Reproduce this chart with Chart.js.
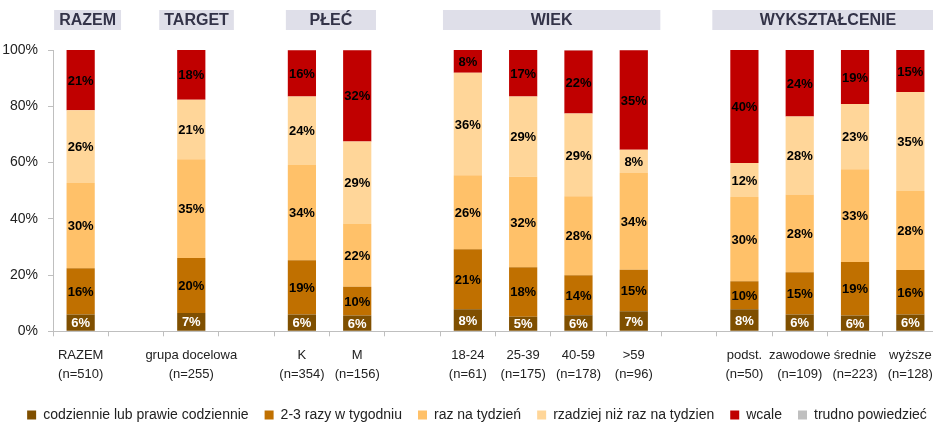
<!DOCTYPE html>
<html>
<head>
<meta charset="utf-8">
<script src="https://cdn.jsdelivr.net/npm/chart.js@4/dist/chart.umd.min.js"></script>
<style>
  html, body { margin: 0; padding: 0; background: #fff; overflow: hidden; }
  #wrap { width: 945px; height: 434px; }
</style>
</head>
<body>
<div id="wrap"><canvas id="chart" width="945" height="434"></canvas></div>
<script>
  // categories (empty strings are the gaps between groups)
  let categories = [
    ['RAZEM', '(n=510)'], '', ['grupa docelowa', '(n=255)'], '',
    ['K', '(n=354)'], ['M', '(n=156)'], '',
    ['18-24', '(n=61)'], ['25-39', '(n=175)'], ['40-59', '(n=178)'], ['>59', '(n=96)'], '',
    ['podst.', '(n=50)'], ['zawodowe', '(n=109)'], ['średnie', '(n=223)'], ['wyższe', '(n=128)']
  ];

  let codziennie = [6, null, 6.5, null, 6, 5.6, null, 7.8, 5.2, 5.7, 7.1, null, 7.8, 6, 5.6, 6];
  let dwaTrzy    = [16.4, null, 19.6, null, 19.3, 10.2, null, 21.4, 17.6, 14.2, 14.8, null, 10, 15, 19, 15.8];
  let razTydz    = [30.3, null, 35.1, null, 33.8, 22.3, null, 26.3, 32.1, 28.1, 34.4, null, 29.9, 27.6, 33, 28.1];
  let rzadziej   = [25.9, null, 21.1, null, 24.4, 29.4, null, 36.4, 28.6, 29.4, 8.2, null, 12.1, 27.8, 23.2, 35.2];
  let wcale      = [21.4, null, 17.7, null, 16.4, 32.4, null, 8.1, 16.5, 22.4, 35.4, null, 40.2, 23.6, 19.2, 14.9];
  let trudno     = [0, null, 0, null, 0.1, 0.1, null, 0, 0, 0.2, 0.1, null, 0, 0, 0, 0];

  let seriesNames = ['codziennie lub prawie codziennie', '2-3 razy w tygodniu', 'raz na tydzień',
                     'rzadziej niż raz na tydzien', 'wcale', 'trudno powiedzieć'];
  let seriesColors = ['#7F4F00', '#C07000', '#FFC169', '#FFD699', '#C00000', '#BFBFBF'];
  let labelColors = ['#ffffff', '#000000', '#000000', '#000000', '#000000', '#000000'];

  let yTicks = [0, 20, 40, 60, 80, 100];

  // group headers: text and span in category units
  let headerTexts = ['RAZEM', 'TARGET', 'PŁEĆ', 'WIEK', 'WYKSZTAŁCENIE'];
  let headerSpans = [[-0.48, 0.73], [1.42, 2.77], [3.71, 5.34], [6.55, 10.48], [11.42, 15.6]];

  let allSeries = [codziennie, dwaTrzy, razTydz, rzadziej, wcale, trudno];

  let headerPlugin = {
    id: 'headers',
    afterLayout(chart) {
      // legend sits a bit right of centre in the original
      chart.legend.left += 8;
      chart.legend.right += 8;
    },
    afterDraw(chart) {
      let ctx = chart.ctx;
      let x = chart.scales.x;
      ctx.save();
      headerTexts.forEach((t, i) => {
        let l = x.getPixelForValue(headerSpans[i][0]);
        let r = x.getPixelForValue(headerSpans[i][1]);
        ctx.fillStyle = '#DFDFE9';
        ctx.fillRect(l, 10, r - l, 20);
        ctx.fillStyle = '#333348';
        ctx.font = 'bold 16px "Liberation Sans", Arial, sans-serif';
        ctx.textAlign = 'center';
        ctx.textBaseline = 'middle';
        ctx.fillText(t, (l + r) / 2, 21);
      });
      ctx.restore();
    }
  };

  let valuePlugin = {
    id: 'values',
    afterDatasetsDraw(chart) {
      let ctx = chart.ctx;
      ctx.save();
      ctx.font = 'bold 13px "Liberation Sans", Arial, sans-serif';
      ctx.textAlign = 'center';
      ctx.textBaseline = 'middle';
      chart.data.datasets.forEach((ds, di) => {
        if (di > 4) return;
        chart.getDatasetMeta(di).data.forEach((bar, i) => {
          let v = ds.data[i];
          if (v == null || v < 1) return;
          ctx.fillStyle = labelColors[di];
          ctx.fillText(Math.round(v) + '%', bar.x, (bar.y + bar.base) / 2 + 1);
        });
      });
      ctx.restore();
    }
  };

  let ctx = document.getElementById('chart').getContext('2d');
  let chart = new Chart(ctx, {
    type: 'bar',
    data: {
      labels: categories,
      datasets: allSeries.map((s, i) => ({
        label: seriesNames[i],
        data: s,
        backgroundColor: seriesColors[i],
        borderWidth: 0,
        barPercentage: 0.51,
        categoryPercentage: 1
      }))
    },
    options: {
      responsive: false,
      animation: false,
      layout: { padding: { top: 50, right: 7, left: 0, bottom: 2 } },
      scales: {
        x: {
          stacked: true,
          afterFit(scale) { scale.height -= 2; },
          grid: { drawOnChartArea: false, drawTicks: true, tickLength: 5, color: '#BFBFBF', offset: true },
          border: { color: '#BFBFBF' },
          ticks: {
            autoSkip: false, maxRotation: 0, minRotation: 0, padding: 10,
            color: '#222',
            font: { family: '"Liberation Sans", Arial, sans-serif', size: 13, lineHeight: 1.45 }
          }
        },
        y: {
          stacked: true,
          min: 0, max: 100,
          afterBuildTicks(scale) { scale.ticks = yTicks.map(v => ({ value: v })); },
          afterFit(scale) { scale.width = 53; },
          grid: { drawOnChartArea: false, drawTicks: true, tickLength: 5, color: '#BFBFBF' },
          border: { color: '#BFBFBF' },
          ticks: {
            padding: 10, color: '#222',
            callback: v => v + '%',
            font: { family: '"Liberation Sans", Arial, sans-serif', size: 14 }
          }
        }
      },
      plugins: {
        legend: {
          position: 'bottom',
          labels: {
            boxWidth: 9, boxHeight: 9, padding: 16, color: '#222',
            font: { family: '"Liberation Sans", Arial, sans-serif', size: 14 }
          }
        },
        tooltip: { enabled: false }
      }
    },
    plugins: [headerPlugin, valuePlugin]
  });
</script>
</body>
</html>
